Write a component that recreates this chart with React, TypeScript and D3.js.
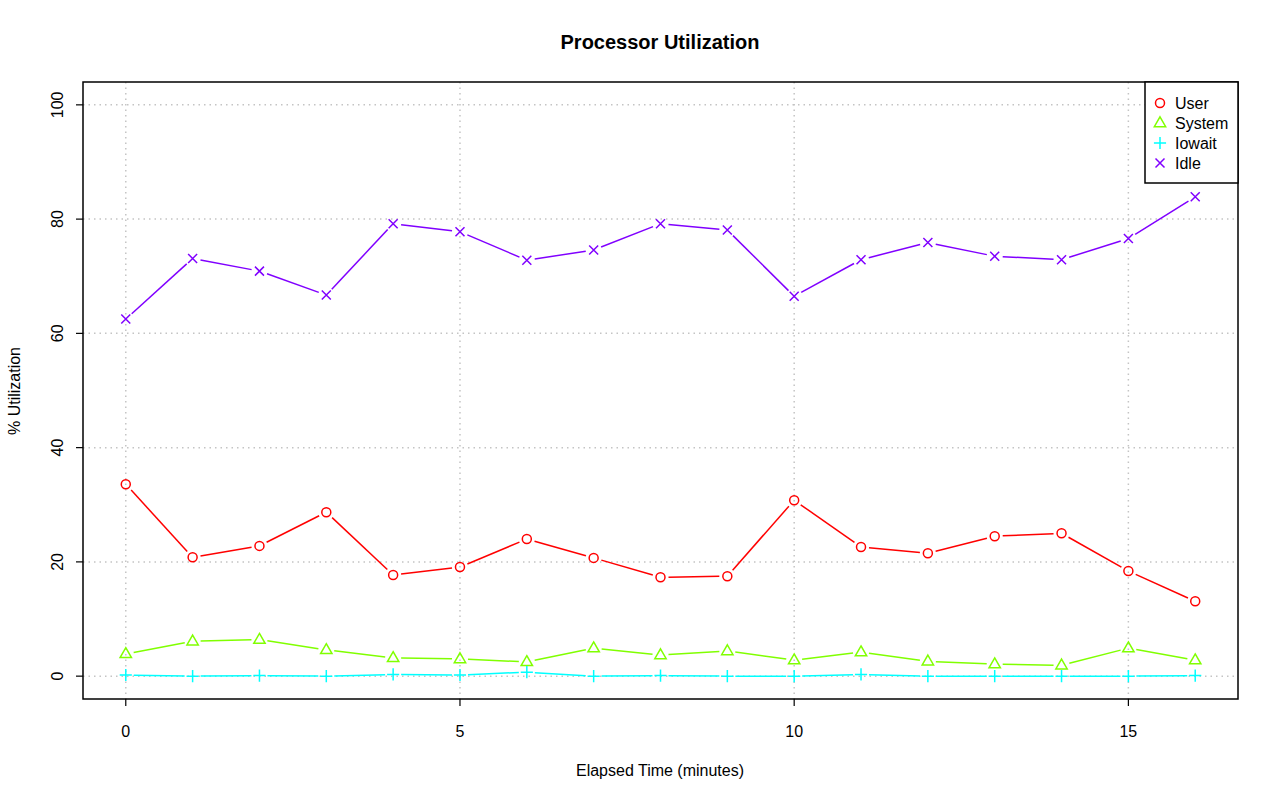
import React, { useEffect, useRef } from 'react';
import * as d3 from 'd3';

// Elapsed minutes
const minutes = [0, 1, 2, 3, 4, 5, 6, 7, 8, 9, 10, 11, 12, 13, 14, 15, 16];
const userPct = [33.6, 20.8, 22.8, 28.7, 17.7, 19.1, 24.0, 20.7, 17.3, 17.5, 30.8, 22.6, 21.5, 24.5, 25.0, 18.4, 13.1];
const systemPct = [3.9, 6.1, 6.4, 4.6, 3.2, 3.0, 2.5, 4.9, 3.7, 4.4, 2.8, 4.2, 2.6, 2.1, 1.9, 4.9, 2.8];
const iowaitPct = [0.2, 0.0, 0.1, 0.0, 0.3, 0.2, 0.7, 0.0, 0.1, 0.0, 0.0, 0.3, 0.0, 0.0, 0.0, 0.0, 0.1];
const idlePct = [62.5, 73.1, 70.9, 66.7, 79.2, 77.8, 72.8, 74.6, 79.2, 78.1, 66.5, 72.9, 75.9, 73.5, 72.9, 76.6, 83.9];
const seriesNames = ['User', 'System', 'Iowait', 'Idle'];
const seriesColors = ['#FF0000', '#80FF00', '#00FFFF', '#8000FF'];
const xTicks = [0, 5, 10, 15];
const yTicks = [0, 20, 40, 60, 80, 100];

const FONT = '"Liberation Sans", Arial, Helvetica, sans-serif';

const App = () => {
  const ref = useRef<SVGSVGElement | null>(null);

  useEffect(() => {
    if (!ref.current) return;
    const svg = d3.select(ref.current);
    svg.selectAll('*').remove();

    const left = 83, right = 1238, top = 82, bottom = 699;

    // R style 4% padding on each side
    const x = d3.scaleLinear().domain([-0.64, 16.64]).range([left, right]);
    const y = d3.scaleLinear().domain([-4, 104]).range([bottom, top]);

    // grid (lty = "dotted", col = "lightgray")
    const grid = svg.append('g');
    xTicks.forEach(t => {
      grid.append('line')
        .attr('x1', x(t)).attr('x2', x(t))
        .attr('y1', top).attr('y2', bottom)
        .style('stroke', '#C4C4C4').style('stroke-width', 1.5).style('stroke-dasharray', '1.5,4');
    });
    yTicks.forEach(t => {
      grid.append('line')
        .attr('x1', left).attr('x2', right)
        .attr('y1', y(t)).attr('y2', y(t))
        .style('stroke', '#C4C4C4').style('stroke-width', 1.5).style('stroke-dasharray', '1.5,4');
    });

    const data = [userPct, systemPct, iowaitPct, idlePct];
    const gap = 8;

    // symbol drawer: pch 1, 2, 3, 4
    const drawSymbol = (g, kind, cx, cy, color) => {
      const s = 4.5;
      if (kind === 0) {
        g.append('circle').attr('cx', cx).attr('cy', cy).attr('r', s)
          .style('fill', 'none').style('stroke', color).style('stroke-width', 1.5);
      } else if (kind === 1) {
        const h = s * 1.15;
        g.append('path')
          .attr('d', `M${cx},${cy - h - 1}L${cx + h + 0.5},${cy + h - 1.5}L${cx - h - 0.5},${cy + h - 1.5}Z`)
          .style('fill', 'none').style('stroke', color).style('stroke-width', 1.5);
      } else if (kind === 2) {
        const h = s * 1.35;
        g.append('path')
          .attr('d', `M${cx - h},${cy}L${cx + h},${cy}M${cx},${cy - h}L${cx},${cy + h}`)
          .style('fill', 'none').style('stroke', color).style('stroke-width', 1.5);
      } else {
        const h = s;
        g.append('path')
          .attr('d', `M${cx - h},${cy - h}L${cx + h},${cy + h}M${cx - h},${cy + h}L${cx + h},${cy - h}`)
          .style('fill', 'none').style('stroke', color).style('stroke-width', 1.5);
      }
    };

    data.forEach((vals, si) => {
      const g = svg.append('g');
      const color = seriesColors[si];
      // line segments with gaps around points (type = "b")
      for (let i = 0; i < vals.length - 1; i++) {
        const x0 = x(minutes[i]), y0 = y(vals[i]);
        const x1 = x(minutes[i + 1]), y1 = y(vals[i + 1]);
        const len = Math.hypot(x1 - x0, y1 - y0);
        if (len <= 2 * gap) continue;
        const ux = (x1 - x0) / len, uy = (y1 - y0) / len;
        g.append('line')
          .attr('x1', x0 + ux * gap).attr('y1', y0 + uy * gap)
          .attr('x2', x1 - ux * gap).attr('y2', y1 - uy * gap)
          .style('stroke', color).style('stroke-width', 1.5);
      }
      vals.forEach((v, i) => drawSymbol(g, si, x(minutes[i]), y(v), color));
    });

    // box
    svg.append('rect')
      .attr('x', left).attr('y', top)
      .attr('width', right - left).attr('height', bottom - top)
      .style('fill', 'none').style('stroke', 'black').style('stroke-width', 1.5);

    // x axis
    const xa = svg.append('g');
    xTicks.forEach(t => {
      xa.append('line').attr('x1', x(t)).attr('x2', x(t)).attr('y1', bottom).attr('y2', bottom + 7)
        .style('stroke', 'black').style('stroke-width', 1.2);
      xa.append('text').attr('x', x(t)).attr('y', 737)
        .attr('text-anchor', 'middle')
        .style('font-family', FONT).style('font-size', '16px')
        .text(t);
    });

    // y axis
    const ya = svg.append('g');
    yTicks.forEach(t => {
      ya.append('line').attr('x1', left).attr('x2', left - 7).attr('y1', y(t)).attr('y2', y(t))
        .style('stroke', 'black').style('stroke-width', 1.2);
      ya.append('text')
        .attr('transform', `translate(63, ${y(t)}) rotate(-90)`)
        .attr('text-anchor', 'middle')
        .style('font-family', FONT).style('font-size', '16px')
        .text(t);
    });

    // titles
    svg.append('text').attr('x', 660).attr('y', 49)
      .attr('text-anchor', 'middle')
      .style('font-family', FONT).style('font-size', '20px').style('font-weight', 'bold')
      .text('Processor Utilization');
    svg.append('text').attr('x', 660).attr('y', 776)
      .attr('text-anchor', 'middle')
      .style('font-family', FONT).style('font-size', '16px')
      .text('Elapsed Time (minutes)');
    svg.append('text')
      .attr('transform', `translate(20, 391) rotate(-90)`)
      .attr('text-anchor', 'middle')
      .style('font-family', FONT).style('font-size', '16px')
      .text('% Utilization');

    // legend
    const lg = svg.append('g');
    lg.append('rect')
      .attr('x', 1145).attr('y', top)
      .attr('width', right - 1145).attr('height', 101)
      .style('fill', 'white').style('stroke', 'black').style('stroke-width', 1.5);
    seriesNames.forEach((name, i) => {
      const ly = 103 + i * 20;
      drawSymbol(lg, i, 1160, ly, seriesColors[i]);
      lg.append('text').attr('x', 1175).attr('y', ly + 6)
        .style('font-family', FONT).style('font-size', '16px')
        .text(name);
    });
  }, []);

  return (
    <svg
      ref={ref}
      width={1280}
      height={801}
      style={{ position: 'absolute', left: 0, top: 0, background: 'white' }}
    />
  );
};

export default App;
